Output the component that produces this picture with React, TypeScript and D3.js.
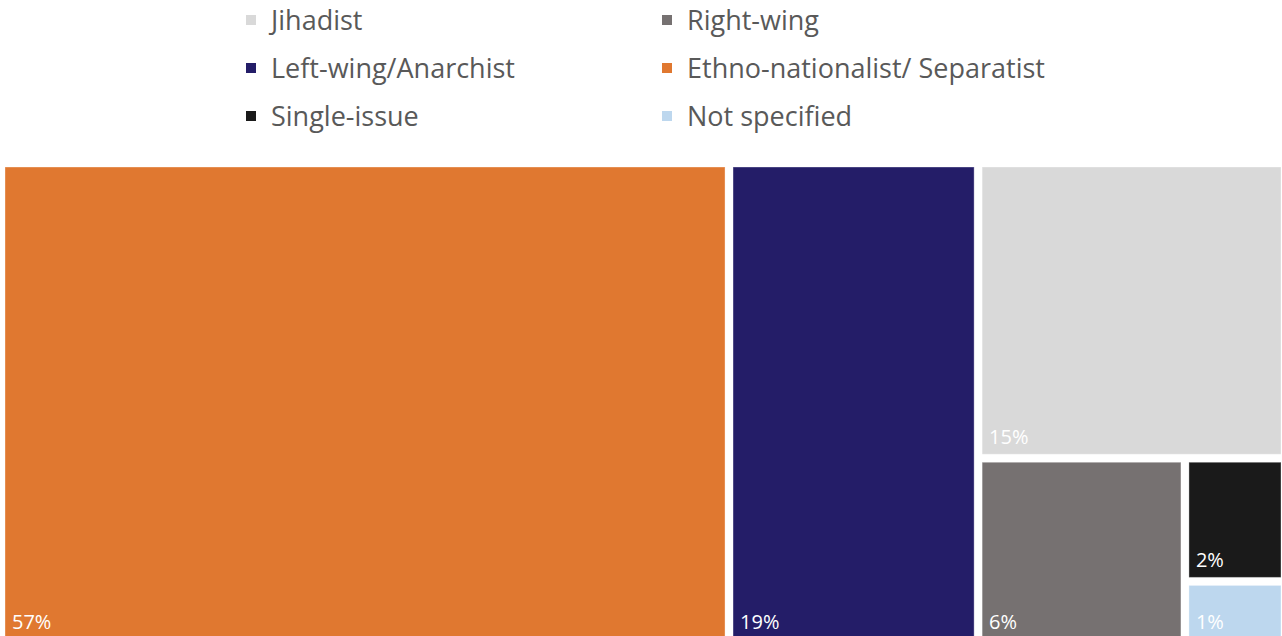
import * as d3 from "d3";
import React from "react";

// chart data
const categories = [
  "Ethno-nationalist/ Separatist",
  "Left-wing/Anarchist",
  "Jihadist",
  "Right-wing",
  "Single-issue",
  "Not specified",
];
const shares = [56.7, 19.4, 14.7, 6.2, 2.0, 1.0];
const shareLabels = ["57%", "19%", "15%", "6%", "2%", "1%"];
const colors = ["#E07830", "#241D68", "#D9D9D9", "#767171", "#1A1A1A", "#BDD7EE"];
const legendOrder = [
  "Jihadist",
  "Left-wing/Anarchist",
  "Single-issue",
  "Right-wing",
  "Ethno-nationalist/ Separatist",
  "Not specified",
];

const W = 1282;
const H = 636;
const area = { left: 5, top: 167, right: 1281, bottom: 639 };
const font = "'Open Sans', 'Noto Sans', sans-serif";

const App = () => {
  const color = d3.scaleOrdinal<string, string>().domain(categories).range(colors);

  const root = d3
    .hierarchy<any>({
      children: categories.map((name, i) => ({ name, value: shares[i], label: shareLabels[i] })),
    })
    .sum((d: any) => d.value || 0);

  d3
    .treemap<any>()
    .tile(d3.treemapSquarify.ratio(1))
    .size([area.right - area.left, area.bottom - area.top])
    .paddingInner(8)
    .round(false)(root);

  const leaves = root.leaves() as any[];

  return (
    <svg
      width={W}
      height={H}
      style={{ position: "absolute", left: 0, top: 0, background: "white" }}
      fontFamily={font}>
      <g className="legend">
        {legendOrder.map((name, i) => {
          const col = Math.floor(i / 3);
          const row = i % 3;
          const x = 246 + col * 416;
          const y = 20 + row * 48;
          return (
            <g key={name} transform={`translate(${x},${y})`}>
              <rect x={0} y={-5} width={10} height={10} fill={color(name)} />
              <text x={25} y={10} fontSize={27} fill="#595959">
                {name}
              </text>
            </g>
          );
        })}
      </g>
      <g transform={`translate(${area.left},${area.top})`}>
        {leaves.map((d) => (
          <g key={d.data.name}>
            <rect
              x={d.x0}
              y={d.y0}
              width={d.x1 - d.x0}
              height={d.y1 - d.y0}
              fill={color(d.data.name)}
              stroke="#ffffff"
              strokeOpacity={0.35}
              strokeWidth={1}
            />
            <text x={d.x0 + 7} y={d.y1 - 10} fontSize={20} fill="#ffffff">
              {d.data.label}
            </text>
          </g>
        ))}
      </g>
    </svg>
  );
};

export default App;
